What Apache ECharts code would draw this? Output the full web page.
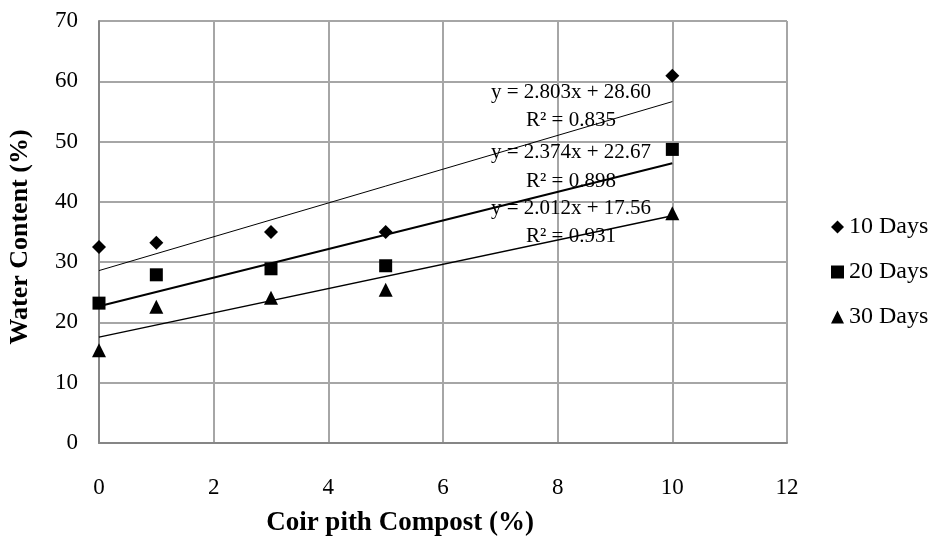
<!DOCTYPE html>
<html><head><meta charset="utf-8">
<script src="https://cdn.jsdelivr.net/npm/echarts@6/dist/echarts.min.js"></script>
<style>html,body{margin:0;padding:0;background:#fff}#c{width:937px;height:543px}</style>
</head><body><div id="c"></div>
<script>
const xValues = [0, 1, 3, 5, 10];
const days10 = [32.5, 33.2, 35.0, 35.0, 60.9];
const days20 = [23.2, 27.9, 28.9, 29.4, 48.7];
const days30 = [15.4, 22.6, 24.1, 25.4, 38.1];
const seriesNames = ['10 Days', '20 Days', '30 Days'];
const slopes = [2.803, 2.374, 2.012];
const intercepts = [28.60, 22.67, 17.56];
const r2 = ['0.835', '0.898', '0.931'];
const xTicks = [0, 2, 4, 6, 8, 10, 12];
const yTicks = [0, 10, 20, 30, 40, 50, 60, 70];
const xTitle = 'Coir pith Compost (%)';
const yTitle = 'Water Content (%)';

const font = 'Liberation Serif';
const chart = echarts.init(document.getElementById('c'), null, {renderer: 'canvas'});
const allY = [days10, days20, days30];
const symbols = ['diamond', 'rect', 'triangle'];
const sizes = [14, 13, 14];
const lineWidths = [1, 2, 1.5];

const series = [];
allY.forEach((ys, i) => {
  series.push({
    name: seriesNames[i], type: 'scatter', symbol: symbols[i], symbolSize: sizes[i],
    itemStyle: {color: '#000', opacity: 1}, z: 5,
    data: xValues.map((x, k) => [x, ys[k]])
  });
});
allY.forEach((ys, i) => {
  const x0 = xValues[0], x1 = xValues[xValues.length - 1];
  series.push({
    name: 'trend' + i, type: 'line', showSymbol: false, silent: true, z: 3,
    lineStyle: {color: '#000', width: lineWidths[i]},
    data: [[x0, slopes[i] * x0 + intercepts[i]], [x1, slopes[i] * x1 + intercepts[i]]]
  });
});

const annY = [[92, 120], [152, 181], [208, 236]];
const graphic = [];
slopes.forEach((s, i) => {
  graphic.push({type: 'text', x: 571, y: annY[i][0], z: 10,
    style: {text: 'y = ' + s.toFixed(3) + 'x + ' + intercepts[i].toFixed(2), font: '21px "' + font + '"', fill: '#000', align: 'center', verticalAlign: 'middle'}});
  graphic.push({type: 'text', x: 571, y: annY[i][1], z: 10,
    style: {text: 'R² = ' + r2[i], font: '21px "' + font + '"', fill: '#000', align: 'center', verticalAlign: 'middle'}});
});
graphic.push({type: 'text', x: 400, y: 523, z: 10,
  style: {text: xTitle, font: 'bold 27px "' + font + '"', fill: '#000', align: 'center', verticalAlign: 'middle'}});
graphic.push({type: 'text', x: 20, y: 237, rotation: Math.PI / 2, z: 10,
  style: {text: yTitle, font: 'bold 26px "' + font + '"', fill: '#000', align: 'center', verticalAlign: 'middle'}});

chart.setOption({
  animation: false,
  textStyle: {fontFamily: font},
  grid: {left: 99, right: 150, top: 21, bottom: 100},
  legend: {
    data: seriesNames, orient: 'vertical', left: 826, top: 210,
    itemWidth: 13, itemHeight: 13, itemGap: 21,
    itemStyle: {opacity: 1},
    textStyle: {fontFamily: font, fontSize: 24, color: '#000'}
  },
  xAxis: {
    type: 'value', min: xTicks[0], max: xTicks[xTicks.length - 1], interval: 2,
    axisLine: {show: true, lineStyle: {color: '#868686', width: 2}},
    axisTick: {show: false},
    axisLabel: {fontFamily: font, fontSize: 23, color: '#000', margin: 33},
    splitLine: {show: true, lineStyle: {color: '#a6a6a6', width: 2}}
  },
  yAxis: {
    type: 'value', min: yTicks[0], max: yTicks[yTicks.length - 1], interval: 10,
    axisLine: {show: true, lineStyle: {color: '#868686', width: 2}},
    axisTick: {show: false},
    axisLabel: {fontFamily: font, fontSize: 23, color: '#000', margin: 21},
    splitLine: {show: true, lineStyle: {color: '#a6a6a6', width: 2}}
  },
  graphic: graphic,
  series: series
});
</script></body></html>
